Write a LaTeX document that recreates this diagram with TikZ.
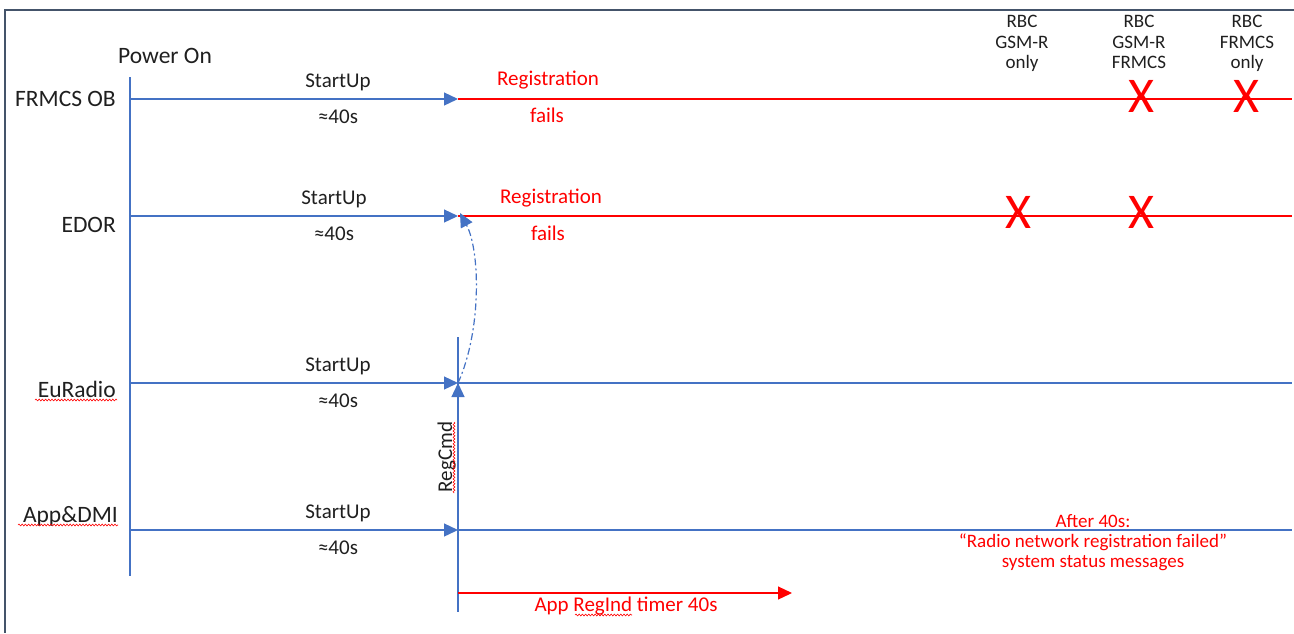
\documentclass[tikz,border=0pt]{standalone}
\usepackage{fontspec}
\setmainfont{Carlito}
\usetikzlibrary{arrows.meta,decorations.pathmorphing}
\definecolor{lblue}{HTML}{4472C4}
\definecolor{lred}{HTML}{FF0000}
\definecolor{framec}{HTML}{44546A}
\definecolor{txt}{HTML}{1F1F1F}
\begin{document}
\begin{tikzpicture}[x=1pt,y=-1pt,
  bl/.style={draw=lblue,line width=1.3pt},
  rl/.style={draw=lred,line width=1.2pt},
  arr/.style={-{Triangle[length=14pt,width=13pt]}},
  lab/.style={font=\fontsize{23.5}{27}\selectfont,text=txt,inner sep=0pt},
  small/.style={font=\fontsize{21}{25}\selectfont,text=txt,inner sep=0pt},
  redtxt/.style={font=\fontsize{21}{25}\selectfont,text=lred,inner sep=0pt},
  rbc/.style={font=\fontsize{19}{20.5}\selectfont,text=txt,inner sep=0pt,align=center},
  msgs/.style={font=\fontsize{19}{20}\selectfont,text=lred,inner sep=0pt,align=center},
  xmark/.style={font=\fontsize{50}{50}\selectfont,text=lred,inner sep=0pt},
  squig/.style={draw=lred,line width=0.6pt,decorate,decoration={snake,amplitude=0.9pt,segment length=3.2pt}}
]
\useasboundingbox (0,0) rectangle (1294,633);
% frame
\coordinate (fTR) at (1294,10);
\coordinate (fTL) at (5,10);
\coordinate (fBL) at (5,633);
\draw[draw=framec,line width=1.5pt] (fTR) -- (fTL) -- (fBL);

% power on line
\node[lab,anchor=base] (pwr) at (165,63) {Power On};
\coordinate (pTop) at (130,77);
\coordinate (pBot) at (130,576);
\draw[bl] (pTop) -- (pBot);

% rows
\foreach \n/\y in {fr/99, ed/216, eu/383, ap/530}{
  \coordinate (\n S) at (130,\y);
  \coordinate (\n J) at (458,\y);
  \coordinate (\n E) at (1292,\y);
}
\draw[bl,arr] (frS) -- (frJ);
\draw[bl,arr] (edS) -- (edJ);
\draw[bl,arr] (euS) -- (euJ);
\draw[bl,arr] (apS) -- (apJ);
\draw[rl] (frJ) -- (frE);
\draw[rl] (edJ) -- (edE);
\draw[bl] (euJ) -- (euE);
\draw[bl] (apJ) -- (apE);

% row labels
\node[lab,anchor=base east] (lFR) at (116,106) {FRMCS OB};
\node[lab,anchor=base east] (lED) at (116,232) {EDOR};
\node[lab,anchor=base east] (lEu) at (116,397) {EuRadio};
\node[lab,anchor=base east] (lAp) at (118,522) {App\&DMI};
\coordinate (sqEu1) at (35,400); \coordinate (sqEu2) at (117,400);
\coordinate (sqAp1) at (18,525); \coordinate (sqAp2) at (118,525);
\draw[squig] (sqEu1) -- (sqEu2);
\draw[squig] (sqAp1) -- (sqAp2);

% StartUp / 40s
\node[small,anchor=base] (s1) at (338,87) {StartUp};
\node[small,anchor=base] (t1) at (338,123) {≈40s};
\node[small,anchor=base] (s2) at (334,204) {StartUp};
\node[small,anchor=base] (t2) at (334,240) {≈40s};
\node[small,anchor=base] (s3) at (338,371) {StartUp};
\node[small,anchor=base] (t3) at (338,407) {≈40s};
\node[small,anchor=base] (s4) at (338,518) {StartUp};
\node[small,anchor=base] (t4) at (338,554) {≈40s};

% registration fails
\node[redtxt,anchor=base] (reg1) at (548,85) {Registration};
\node[redtxt,anchor=base] (fail1) at (547,122) {fails};
\node[redtxt,anchor=base] (reg2) at (551,203) {Registration};
\node[redtxt,anchor=base] (fail2) at (548,240) {fails};

% RBC headers
\node[rbc,anchor=north] (rbc1) at (1022,15) {RBC\\GSM-R\\only};
\node[rbc,anchor=north] (rbc2) at (1139,15) {RBC\\GSM-R\\FRMCS};
\node[rbc,anchor=north] (rbc3) at (1247,15) {RBC\\FRMCS\\only};

% X marks
\node[xmark] (x1) at (1141,96) {X};
\node[xmark] (x2) at (1246,96) {X};
\node[xmark] (x3) at (1018,212) {X};
\node[xmark] (x4) at (1141,212) {X};

% RegCmd vertical
\coordinate (vTop) at (458,337);
\coordinate (vBot) at (458,612);
\draw[bl] (vTop) -- (vBot);
\draw[bl,arr] (apJ) -- (euJ);
\node[small,rotate=90,anchor=base] (regcmd) at (452,457) {RegCmd};
\coordinate (sqR1) at (454,422); \coordinate (sqR2) at (454,493);
\draw[squig] (sqR1) -- (sqR2);

% dash-dot curve
\coordinate (cEnd) at (460,213);
\draw[draw=lblue,line width=1.2pt,dash pattern=on 7pt off 3pt on 2pt off 3pt,arr]
  (euJ) .. controls (482,330) and (480,250) .. (cEnd);

% timer
\coordinate (tS) at (458,593);
\coordinate (tE) at (792,593);
\draw[rl,arr] (tS) -- (tE);
\node[redtxt,anchor=base] (timer) at (626,611) {App RegInd timer 40s};
\coordinate (sqT1) at (575,615); \coordinate (sqT2) at (632,615);
\draw[squig] (sqT1) -- (sqT2);

% message
\node[msgs,anchor=north] (msg) at (1093,514) {After 40s:\\“Radio network registration failed”\\system status messages};
\end{tikzpicture}
\end{document}
